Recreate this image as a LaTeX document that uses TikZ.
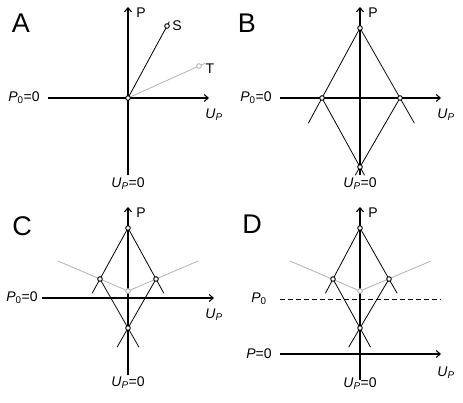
\documentclass[tikz,border=0pt]{standalone}
\usepackage{fontspec}
\setmainfont{Liberation Sans}
\usetikzlibrary{arrows.meta,calc}
\tikzset{
  axis/.style={line width=1.3pt,-{Straight Barb[length=4pt,width=7pt,line width=1.1pt]}},
  axisplain/.style={line width=1.3pt},
  thin line/.style={line width=0.8pt,black},
  gray line/.style={line width=0.8pt,gray!60},
  dot/.style={circle,draw=black,fill=white,line width=0.9pt,inner sep=0pt,minimum size=4.6pt},
  graydot/.style={dot,draw=gray!60},
  lbl/.style={inner sep=0pt,font=\fontsize{14}{14}\selectfont},
  big/.style={inner sep=0pt,font=\fontsize{27}{27}\selectfont},
}
\newcommand{\UP}{\textit{U}\textsubscript{\textit{P}}}
\newcommand{\Pzero}{\textit{P}\textsubscript{0}}
\begin{document}
\begin{tikzpicture}[x=1pt,y=-1pt]
\useasboundingbox (0,0) rectangle (463,402);
% ---------------- A ----------------
\node[big] (lA) at (21,23) {A};
\coordinate (A0) at (128,98);
\coordinate (AyT) at (128,7);
\coordinate (AyB) at (128,175);
\coordinate (AxL) at (48,98);
\coordinate (AxR) at (209,98);
\draw[axisplain] (AyB) -- (A0);
\draw[axis] (A0) -- (AyT);
\draw[axis] (AxL) -- (AxR);
\coordinate (AS) at (167,26);
\coordinate (AT) at (199,66);
\draw[thin line] (A0) -- ($(A0)!1.06!(AS)$);
\draw[gray line] (A0) -- ($(A0)!1.08!(AT)$);
\node[dot] (a0) at (A0) {};
\node[dot] (aS) at (AS) {};
\node[graydot] (aT) at (AT) {};
\node[lbl] (aP) at (141,13) {P};
\node[lbl] (aSl) at (177,26) {S};
\node[lbl] (aTl) at (210,69) {T};
\node[lbl] (aP0) at (24,98) {\Pzero=0};
\node[lbl] (aUP) at (214,115) {\UP};
\node[lbl] (aUP0) at (128,184) {\UP=0};
% ---------------- B ----------------
\node[big] (lB) at (247,23) {B};
\coordinate (B0) at (360,98);
\coordinate (ByT) at (360,7);
\coordinate (ByB) at (360,175);
\coordinate (BxL) at (280,98);
\coordinate (BxR) at (441,98);
\draw[axis] (ByB) -- (ByT);
\draw[axis] (BxL) -- (BxR);
\coordinate (BT) at (360,28);
\coordinate (BL) at (322,98);
\coordinate (BR) at (400,98);
\coordinate (BB) at (360,167);
\draw[thin line] (BT) -- ($(BT)!1.36!(BL)$);
\draw[thin line] (BT) -- ($(BT)!1.36!(BR)$);
\draw[thin line] (BL) -- ($(BL)!1.12!(BB)$);
\draw[thin line] (BR) -- ($(BR)!1.12!(BB)$);
\node[dot] (bT) at (BT) {};
\node[dot] (bL) at (BL) {};
\node[dot] (bR) at (BR) {};
\node[dot] (bB) at (BB) {};
\node[lbl] (bP) at (373,13) {P};
\node[lbl] (bP0) at (256,98) {\Pzero=0};
\node[lbl] (bUP) at (446,115) {\UP};
\node[lbl] (bUP0) at (360,184) {\UP=0};
% ---------------- C ----------------
\node[big] (lC) at (22,226) {C};
\coordinate (C0) at (128,298);
\coordinate (CyT) at (128,207);
\coordinate (CyB) at (128,375);
\coordinate (CxL) at (42,298);
\coordinate (CxR) at (214,298);
\coordinate (CT) at (128,228);
\coordinate (CL) at (100,279);
\coordinate (CR) at (156,279);
\coordinate (CB) at (128,328);
\coordinate (CG) at (128,291);
\coordinate (CgL) at (58,261);
\coordinate (CgR) at (198,261);
\draw[gray line] (CgL) -- (CG) -- (CgR);
\draw[axis] (CyB) -- (CyT);
\draw[axis] (CxL) -- (CxR);
\draw[thin line] (CT) -- ($(CT)!1.28!(CL)$);
\draw[thin line] (CT) -- ($(CT)!1.28!(CR)$);
\draw[thin line] (CL) -- ($(CL)!1.39!(CB)$);
\draw[thin line] (CR) -- ($(CR)!1.39!(CB)$);
\node[dot] (cT) at (CT) {};
\node[dot] (cL) at (CL) {};
\node[dot] (cR) at (CR) {};
\node[dot] (cB) at (CB) {};
\node[graydot] (cG) at (CG) {};
\node[lbl] (cP) at (141,213) {P};
\node[lbl] (cP0) at (22,298) {\Pzero=0};
\node[lbl] (cUP) at (214,315) {\UP};
\node[lbl] (cUP0) at (128,383) {\UP=0};
% ---------------- D ----------------
\node[big] (lD) at (252,224) {D};
\coordinate (DyT) at (360,207);
\coordinate (DyB) at (360,380);
\coordinate (DxL) at (280,354);
\coordinate (DxR) at (441,354);
\coordinate (DdL) at (280,299);
\coordinate (DdR) at (441,299);
\coordinate (DT) at (360,228);
\coordinate (DL) at (333,279);
\coordinate (DR) at (389,279);
\coordinate (DB) at (360,328);
\coordinate (DG) at (360,291);
\coordinate (DgL) at (290,261);
\coordinate (DgR) at (431,261);
\draw[gray line] (DgL) -- (DG) -- (DgR);
\draw[line width=0.8pt,dash pattern=on 5pt off 3pt] (DdL) -- (DdR);
\draw[axis] (DyB) -- (DyT);
\draw[axis] (DxL) -- (DxR);
\draw[thin line] (DT) -- ($(DT)!1.28!(DL)$);
\draw[thin line] (DT) -- ($(DT)!1.28!(DR)$);
\draw[thin line] (DL) -- ($(DL)!1.39!(DB)$);
\draw[thin line] (DR) -- ($(DR)!1.39!(DB)$);
\node[dot] (dT) at (DT) {};
\node[dot] (dL) at (DL) {};
\node[dot] (dR) at (DR) {};
\node[dot] (dB) at (DB) {};
\node[graydot] (dG) at (DG) {};
\node[lbl] (dP) at (373,213) {P};
\node[lbl] (dP0) at (259,299) {\Pzero};
\node[lbl] (dPz) at (259,354) {\textit{P}=0};
\node[lbl] (dUP) at (446,373) {\UP};
\node[lbl] (dUP0) at (360,384) {\UP=0};
\end{tikzpicture}
\end{document}
